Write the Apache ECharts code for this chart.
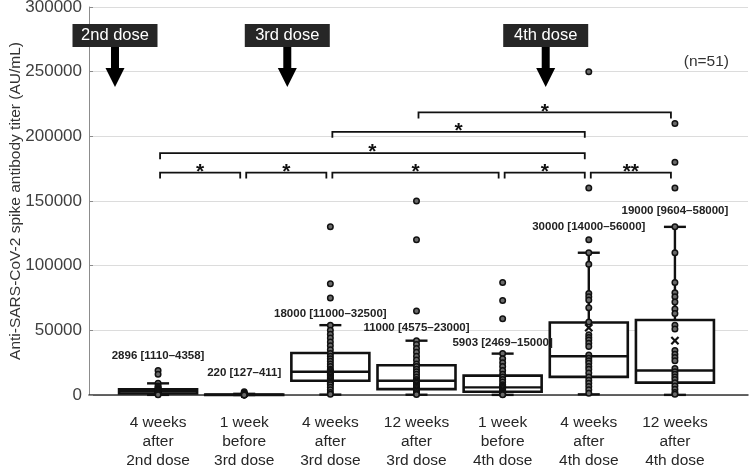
<!DOCTYPE html>
<html><head><meta charset="utf-8">
<script src="https://cdn.jsdelivr.net/npm/echarts@6/dist/echarts.min.js"></script>
<style>html,body{margin:0;padding:0;background:#fff}#c{width:750px;height:467px}</style>
</head><body><div id="c"></div>
<script>
// ---------- data ----------
const categories = ['4 weeks\nafter\n2nd dose', '1 week\nbefore\n3rd dose', '4 weeks\nafter\n3rd dose',
  '12 weeks\nafter\n3rd dose', '1 week\nbefore\n4th dose', '4 weeks\nafter\n4th dose', '12 weeks\nafter\n4th dose'];
const lowWhisker  = [100, 20, 300, 200, 100, 500, 100];
const q1          = [1110, 127, 11000, 4575, 2469, 14000, 9604];
const median      = [2896, 220, 18000, 11000, 5903, 30000, 19000];
const q3          = [4358, 411, 32500, 23000, 15000, 56000, 58000];
const highWhisker = [9000, 900, 54000, 42000, 32000, 110000, 130000];
const means       = [null, null, null, null, null, 52000, 42000];
const boxLabels = ['2896 [1110–4358]', '220 [127–411]', '18000 [11000–32500]', '11000 [4575–23000]',
  '5903 [2469–15000]', '30000 [14000–56000]', '19000 [9604–58000]'];
const boxLabelAt = [30200, 16800, 62600, 52300, 40700, 129700, 142300];

const pts1 = [19000, 16000, 9000, 7000, 6000, 5000, 4500, 4000, 3500, 3000, 2500, 2000, 1500, 1200, 1000, 800, 500, 200];
const pts2 = [2600, 1500, 900, 700, 500, 400, 300, 250, 200, 150, 120, 100, 80, 50];
const pts3 = [130000, 86000, 75000, 54000, 50000, 47000, 44000, 41000, 38000, 35000, 32000, 30000, 28000, 26000, 24000,
  22000, 20000, 19000, 18000, 17000, 16000, 15000, 14000, 13000, 12000, 11000, 10000, 9000, 8000, 6000, 4000, 2000, 500];
const pts4 = [150000, 120000, 65000, 42000, 39000, 36000, 33000, 30000, 27000, 24000, 22000, 20000, 18000, 16000, 14000,
  12000, 11000, 10000, 9000, 8000, 7000, 6000, 5000, 4000, 3000, 2000, 1000, 300];
const pts5 = [87000, 73000, 59000, 32000, 28000, 25000, 22000, 19000, 16000, 14000, 12000, 10000, 8000, 7000, 6000,
  5000, 4000, 3000, 2500, 2000, 1500, 1000, 500, 200];
const pts6 = [250000, 160000, 120000, 110000, 101000, 78500, 76000, 73500, 67500, 56500, 46500, 44500, 42500, 40000,
  37500, 31000, 28500, 26500, 24500, 22000, 20000, 17000, 14000, 11500, 9000, 6500, 4000, 1300];
const pts7 = [210000, 180000, 160000, 130000, 110000, 87000, 79000, 76000, 72000, 66500, 63000, 54000, 51000, 34500,
  31500, 29000, 26500, 20500, 18000, 16000, 14000, 12000, 9500, 7000, 4500, 2000, 500];

const bracketFrom  = [0, 1, 2, 4, 5, 0, 2, 3];
const bracketTo    = [1, 2, 4, 5, 6, 5, 5, 6];
const bracketAt    = [172000, 172000, 172000, 172000, 172000, 187000, 203500, 218500];
const bracketMarks = ['*', '*', '*', '*', '**', '*', '*', '*'];

const doseAt = [-0.5, 1.5, 4.5];
const doseLabels = ['2nd dose', '3rd dose', '4th dose'];

const yTicks = { min: 0, max: 300000, interval: 50000 };

// ---------- build ----------
const allPts = [pts1, pts2, pts3, pts4, pts5, pts6, pts7];
const scatterData = [];
allPts.forEach((arr, i) => arr.forEach(v => scatterData.push([i, v])));
const boxData = categories.map((c, i) => [i, lowWhisker[i], q1[i], median[i], q3[i], highWhisker[i]]);
const meanData = means.map((m, i) => m == null ? null : [i, m]).filter(Boolean);
const labelData = boxLabelAt.map((v, i) => [i, v]);
const bracketData = bracketFrom.map((f, k) => [f, bracketTo[k], bracketAt[k]]);
const doseData = doseAt.map(a => [a, yTicks.max]);

const FONT = '"Liberation Sans", Arial, sans-serif';
const INK = '#111';

const chart = echarts.init(document.getElementById('c'), null, { renderer: 'canvas' });
chart.setOption({
  animation: false,
  backgroundColor: '#fff',
  title: {
    text: '(n=51)', right: 16, top: 49,
    textStyle: { fontFamily: FONT, fontSize: 15.5, fontWeight: 'normal', color: '#333' }
  },
  grid: [
    { left: 89, right: 2, top: 7, bottom: 72, containLabel: false, outerBoundsMode: 'none' },
    { left: 115, right: 32, top: 7, bottom: 72, containLabel: false, outerBoundsMode: 'none' }
  ],
  xAxis: [
    { gridIndex: 0, type: 'value', min: 0, max: 1, axisLabel: { show: false }, axisTick: { show: false },
      splitLine: { show: false }, axisLine: { show: true, lineStyle: { color: '#333', width: 1.5 } } },
    { gridIndex: 1, type: 'category', data: categories, boundaryGap: true,
      axisLine: { show: false }, axisTick: { show: false }, splitLine: { show: false },
      axisLabel: { interval: 0, margin: 18, fontFamily: FONT, fontSize: 15.5, lineHeight: 19, color: '#262626' } }
  ],
  yAxis: [
    { gridIndex: 0, type: 'value', min: yTicks.min, max: yTicks.max, interval: yTicks.interval,
      name: 'Anti-SARS-CoV-2 spike antibody titer (AU/mL)', nameLocation: 'middle', nameGap: 65,
      nameMoveOverlap: false,
      nameTextStyle: { fontFamily: FONT, fontSize: 15.5, color: '#333' },
      axisLine: { show: true, lineStyle: { color: '#8c8c8c', width: 1 } },
      axisTick: { show: true, inside: true, length: 4, lineStyle: { color: '#8c8c8c' } },
      axisLabel: { margin: 7, fontFamily: FONT, fontSize: 17, color: '#404040', formatter: v => String(v) },
      splitLine: { show: true, lineStyle: { color: '#dcdcdc', width: 1.2 } } },
    { gridIndex: 1, type: 'value', min: yTicks.min, max: yTicks.max, interval: yTicks.interval, show: false }
  ],
  series: [
    { // boxes
      type: 'custom', xAxisIndex: 1, yAxisIndex: 1, clip: false, z: 2,
      data: boxData, encode: { x: 0, y: [1, 2, 3, 4, 5] },
      renderItem: (params, api) => {
        const i = api.value(0);
        const lo = api.coord([i, api.value(1)]), b1 = api.coord([i, api.value(2)]),
              md = api.coord([i, api.value(3)]), b3 = api.coord([i, api.value(4)]),
              hi = api.coord([i, api.value(5)]);
        const x = lo[0], hw = 39, cw = 11;
        const st = { stroke: INK, lineWidth: 2.4, fill: null };
        return { type: 'group', children: [
          { type: 'line', shape: { x1: x, y1: lo[1], x2: x, y2: b1[1] }, style: st },
          { type: 'line', shape: { x1: x, y1: b3[1], x2: x, y2: hi[1] }, style: st },
          { type: 'line', shape: { x1: x - cw, y1: lo[1], x2: x + cw, y2: lo[1] }, style: st },
          { type: 'line', shape: { x1: x - cw, y1: hi[1], x2: x + cw, y2: hi[1] }, style: st },
          { type: 'rect', shape: { x: x - hw, y: b3[1], width: 2 * hw, height: b1[1] - b3[1] },
            style: { stroke: INK, lineWidth: 2.6, fill: '#fff' } },
          { type: 'line', shape: { x1: x - hw, y1: md[1], x2: x + hw, y2: md[1] }, style: st }
        ] };
      }
    },
    { // points
      type: 'scatter', xAxisIndex: 1, yAxisIndex: 1, z: 3, data: scatterData,
      symbol: 'circle', symbolSize: 5.5,
      itemStyle: { color: '#6a6a6a', borderColor: INK, borderWidth: 1.5, opacity: 1 }
    },
    { // means
      type: 'custom', xAxisIndex: 1, yAxisIndex: 1, z: 4, clip: false, data: meanData,
      encode: { x: 0, y: 1 },
      renderItem: (params, api) => {
        const p = api.coord([api.value(0), api.value(1)]);
        const s = 3.6, st = { stroke: INK, lineWidth: 2.2 };
        return { type: 'group', children: [
          { type: 'line', shape: { x1: p[0] - s, y1: p[1] - s, x2: p[0] + s, y2: p[1] + s }, style: st },
          { type: 'line', shape: { x1: p[0] - s, y1: p[1] + s, x2: p[0] + s, y2: p[1] - s }, style: st }
        ] };
      }
    },
    { // box labels
      type: 'custom', xAxisIndex: 1, yAxisIndex: 1, z: 5, clip: false, data: labelData,
      encode: { x: 0, y: 1 },
      renderItem: (params, api) => {
        const p = api.coord([api.value(0), api.value(1)]);
        return { type: 'text', x: p[0], y: p[1], style: {
          text: boxLabels[params.dataIndex], fill: '#222', font: 'bold 11.5px ' + FONT,
          textAlign: 'center', textVerticalAlign: 'middle' } };
      }
    },
    { // significance brackets
      type: 'custom', xAxisIndex: 1, yAxisIndex: 1, z: 5, clip: false, data: bracketData,
      encode: { x: [0, 1], y: 2 },
      renderItem: (params, api) => {
        const a = api.coord([api.value(0), api.value(2)]);
        const b = api.coord([api.value(1), api.value(2)]);
        const x1 = a[0] + 2, x2 = b[0] - 4, y = a[1];
        return { type: 'group', children: [
          { type: 'polyline', shape: { points: [[x1, y + 6], [x1, y], [x2, y], [x2, y + 6]] },
            style: { stroke: INK, lineWidth: 1.8, fill: null } },
          { type: 'text', x: (x1 + x2) / 2, y: y - 0.5, style: {
            text: bracketMarks[params.dataIndex], fill: INK, font: 'bold 21px ' + FONT,
            textAlign: 'center', textVerticalAlign: 'middle' } }
        ] };
      }
    },
    { // dose annotations
      type: 'custom', xAxisIndex: 1, yAxisIndex: 1, z: 6, clip: false, data: doseData,
      encode: { x: 0, y: 1 },
      renderItem: (params, api) => {
        const c0 = api.coord([0, api.value(1)]), c1 = api.coord([1, api.value(1)]);
        const x = c0[0] + api.value(0) * (c1[0] - c0[0]);
        const top = c0[1];
        return { type: 'group', children: [
          { type: 'rect', shape: { x: x - 42.5, y: top + 17, width: 85, height: 23 }, style: { fill: '#262626' } },
          { type: 'text', x: x, y: top + 28.5, style: { text: doseLabels[params.dataIndex], fill: '#fff',
            font: '16.5px ' + FONT, textAlign: 'center', textVerticalAlign: 'middle' } },
          { type: 'rect', shape: { x: x - 4, y: top + 40, width: 8, height: 22 }, style: { fill: '#000' } },
          { type: 'polygon', shape: { points: [[x - 9.5, top + 61], [x + 9.5, top + 61], [x, top + 80]] },
            style: { fill: '#000' } }
        ] };
      }
    }
  ]
});
</script>
</body></html>
